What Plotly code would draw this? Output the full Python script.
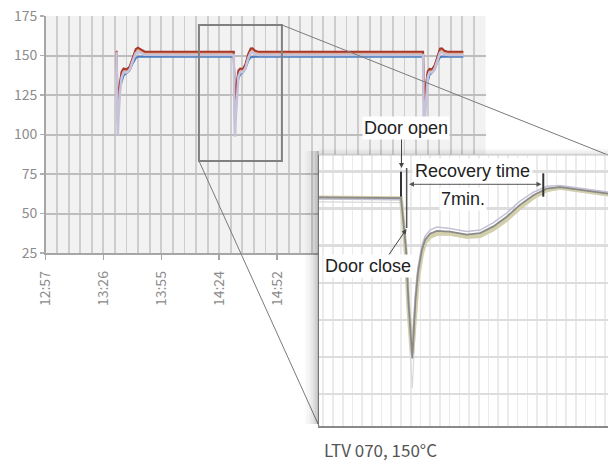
import plotly.graph_objects as go

# Figure fills the whole 608x461 window (body margin removed by a tiny post script).
W, H = 608, 461

# ---------------- main chart data (minutes since 12:57, degC) ----------------
TICK_TIMES = [0, 28.75, 57.5, 86.25, 115]
TICK_LABELS = ["12:57", "13:26", "13:55", "14:24", "14:52"]

T = [34.8,
     35.3, 35.6, 35.9, 36.3, 37.0, 37.8, 38.8, 40.3, 41.8, 43.3, 44.8, 45.9, 47.3, 49.3,
     70.0,
     93.5, 93.8, 94.1, 94.5, 95.1, 95.8, 96.7, 98.0, 99.3, 100.7, 101.9, 102.8, 104.1, 106.0,
     150.0,
     187.5, 187.8, 188.1, 188.5, 189.1, 189.8, 190.7, 192.0, 193.3, 194.7, 195.9, 196.8, 198.1, 200.0,
     207.5]

RED = [152.3,
       152.3, 128, 121, 127, 134, 139.8, 141.8, 141.2, 143.0, 148.5, 154.0, 155.0, 154.0, 152.4,
       152.3,
       152.3, 129, 122, 128, 135, 140.5, 141.8, 141.5, 144.5, 151.0, 154.5, 154.6, 153.0, 152.3,
       152.3,
       152.3, 128, 121, 127, 135, 140.0, 141.5, 141.3, 144.0, 150.5, 154.4, 154.6, 153.0, 152.3,
       152.3]
ORANGE = [151.8,
          151.8, 125, 115, 124, 133, 139.0, 141.0, 140.6, 142.5, 148.0, 153.2, 154.2, 153.2, 151.9,
          151.8,
          151.8, 126, 116, 125, 134, 139.6, 141.0, 140.8, 143.8, 150.2, 153.7, 153.8, 152.4, 151.8,
          151.8,
          151.8, 125, 115, 124, 133, 139.0, 140.8, 140.6, 143.3, 149.8, 153.6, 153.8, 152.3, 151.8,
          151.8]
GREEN = [151.2,
         151.2, 127, 118, 125, 132, 138.0, 140.5, 140.0, 142.0, 147.5, 152.6, 153.5, 152.5, 151.3,
         151.2,
         151.2, 127, 119, 126, 133, 138.8, 140.5, 140.3, 143.2, 149.6, 153.0, 153.1, 151.8, 151.2,
         151.2,
         151.2, 127, 118, 125, 132, 138.3, 140.3, 140.1, 142.8, 149.2, 152.9, 153.1, 151.7, 151.2,
         151.2]
BEIGE = [150.7,
         150.7, 122, 107, 118, 130, 137.5, 140.0, 139.6, 141.5, 147.0, 152.0, 153.0, 152.0, 150.8,
         150.7,
         150.7, 123, 108, 119, 131, 138.2, 140.0, 139.8, 142.7, 149.0, 152.4, 152.5, 151.2, 150.7,
         150.7,
         150.7, 122, 107, 118, 130, 137.6, 139.8, 139.6, 142.3, 148.6, 152.3, 152.5, 151.1, 150.7,
         150.7]
LAVENDER = [151.6,
            151.6, 112, 99.5, 112, 127, 136.0, 139.5, 139.2, 141.0, 146.5, 151.5, 152.5, 151.6, 150.4,
            150.3,
            150.3, 111, 98.6, 111, 127, 136.8, 139.5, 139.4, 142.2, 148.4, 151.9, 152.0, 150.8, 150.3,
            150.3,
            150.3, 112, 100, 112, 127, 136.2, 139.3, 139.2, 141.8, 148.0, 151.8, 152.0, 150.7, 150.3,
            150.3]
BLUE = [149.2,
        149.2, 136, 125, 127, 130, 134.5, 137.5, 138.8, 140.5, 145.0, 148.3, 149.2, 149.3, 149.2,
        149.2,
        149.2, 136, 126, 128, 131, 135.5, 138.0, 139.2, 141.8, 146.8, 148.9, 149.2, 149.2, 149.2,
        149.2,
        149.2, 136, 125, 127, 130, 135.0, 137.8, 139.0, 141.3, 146.4, 148.8, 149.2, 149.2, 149.2,
        149.2]

# ---------------- inset data (minutes from door opening, degC) ----------------
INSET_T = [-4.3, -0.05, 0.0, 0.15, 0.26, 0.38, 0.58, 0.74, 0.87, 1.07, 1.24, 1.49, 1.85,
           2.52, 3.38, 4.07, 4.75, 5.44, 6.12, 6.81, 7.5, 8.18, 9.38, 10.7]
INSET_GRAY = [151.5, 151.5, 151.4, 147.5, 144.4, 137.5, 129.8, 137.5, 141.3, 144.4, 145.8, 146.6,
              147.0, 146.9, 146.5, 146.7, 147.6, 148.9, 150.5, 151.8, 152.7, 152.9, 152.5, 152.0]
INSET_OLIVE = [151.5, 151.5, 151.4, 147.0, 143.5, 136.5, 130.5, 136.0, 140.5, 143.8, 145.4, 146.2,
               146.6, 146.6, 146.2, 146.3, 147.2, 148.5, 150.1, 151.5, 152.5, 152.8, 152.4, 151.9]
INSET_LAV = [151.3, 151.3, 151.2, 147.8, 145.0, 138.5, 131.0, 138.5, 142.0, 145.0, 146.3, 147.1,
             147.5, 147.3, 146.9, 147.1, 148.1, 149.4, 151.0, 152.2, 153.0, 153.1, 152.7, 152.2]
INSET_FAINT = [150.9, 150.9, 150.8, 146.0, 141.5, 134.0, 125.8, 134.5, 139.5, 143.5, 145.2, 146.0,
               146.4, 146.4, 146.0, 146.1, 147.0, 148.3, 149.9, 151.3, 152.3, 152.6, 152.2, 151.7]

DOOR_OPEN_T = 0.0
DOOR_CLOSE_T = 0.29
RECOVERED_T = 7.32


def px(x):
    return x / W


def py(y):
    return 1 - y / H


fig = go.Figure()

main_series = [(BLUE, "#4a7fc1", 2), (GREEN, "#b7cd92", 2), (BEIGE, "#ddd3b2", 2),
               (ORANGE, "#e6a07a", 2), (RED, "#a8372e", 2), (LAVENDER, "#c7c1da", 2.5)]
for vals, col, w in main_series:
    fig.add_trace(go.Scatter(x=T, y=vals, mode="lines", line=dict(color=col, width=w),
                             xaxis="x", yaxis="y", hoverinfo="skip"))

inset_series = [(INSET_FAINT, "#d9d9d9", 1.2), (INSET_OLIVE, "#d2cfaa", 4),
                (INSET_LAV, "#c4c0d6", 1.5), (INSET_GRAY, "#8a8a8a", 1.8)]
for vals, col, w in inset_series:
    fig.add_trace(go.Scatter(x=INSET_T, y=vals, mode="lines", line=dict(color=col, width=w),
                             xaxis="x2", yaxis="y2", hoverinfo="skip"))

tickfont = dict(family="Noto Sans CJK JP, Noto Sans, sans-serif", size=14, color="#8c8c8c")

fig.update_layout(
    template="none",
    width=W, height=H, margin=dict(l=0, r=0, t=0, b=0, pad=0, autoexpand=False),
    paper_bgcolor="white", plot_bgcolor="white", showlegend=False,
    xaxis=dict(domain=[px(45.5), px(485.5)], range=[0, 218.5], anchor="y", automargin=False,
               tickmode="array", tickvals=TICK_TIMES, ticktext=TICK_LABELS, tickangle=-90,
               ticks="outside", ticklen=5, tickcolor="#a6a6a6", tickwidth=1.5,
               showgrid=True, gridcolor="#cdcdcd", gridwidth=1.8,
               minor=dict(tickmode="linear", tick0=0, dtick=5.75, showgrid=True,
                          gridcolor="#cdcdcd", gridwidth=1.8),
               showline=True, linecolor="#a6a6a6", linewidth=1.5, zeroline=False,
               tickfont=tickfont, ticklabelstandoff=6, fixedrange=True),
    yaxis=dict(domain=[py(253), py(16)], range=[25, 175], anchor="x", automargin=False,
               tickmode="linear", tick0=25, dtick=25,
               ticks="outside", ticklen=4, tickcolor="#b0b0b0", tickwidth=1.5,
               showgrid=True, gridcolor="#bdbdbd", gridwidth=2,
               showline=True, linecolor="#a6a6a6", linewidth=1.5, zeroline=False,
               tickfont=tickfont, fixedrange=True),
    xaxis2=dict(domain=[px(319), 1], range=[-4.22, 10.65], anchor="y2", automargin=False,
                showticklabels=False, ticks="", tickmode="linear", tick0=0, dtick=0.5,
                showgrid=True, gridcolor="#ebebeb", gridwidth=1.6,
                showline=True, linecolor="#8a8a8a", linewidth=1.5, zeroline=False,
                fixedrange=True),
    yaxis2=dict(domain=[py(426), py(155)], range=[120.69, 157.22], anchor="x2", automargin=False,
                showticklabels=False, ticks="", tickmode="linear", tick0=125, dtick=5,
                showgrid=True, gridcolor="#dddddd", gridwidth=2.5,
                showline=True, linecolor="#9a9a9a", linewidth=1.5, zeroline=False,
                fixedrange=True),
)

shapes = []
# main plot background
shapes.append(dict(type="rect", xref="x domain", yref="y domain", x0=0, x1=1, y0=0, y1=1,
                   fillcolor="#f2f2f2", line=dict(width=0), layer="below"))
# zoom box on the main chart
shapes.append(dict(type="rect", xref="x", yref="y", x0=76.2, x1=117.4, y0=83.2, y1=169.3,
                   line=dict(color="#808080", width=2), layer="above"))
# connecting lines
shapes.append(dict(type="line", xref="paper", yref="paper", x0=px(282), y0=py(25),
                   x1=px(608), y1=py(155), line=dict(color="#7a7a7a", width=1), layer="above"))
shapes.append(dict(type="line", xref="paper", yref="paper", x0=px(199), y0=py(161),
                   x1=px(319), y1=py(426), line=dict(color="#7a7a7a", width=1), layer="above"))
# inset shadow (left and top)
left_alpha = [0.02, 0.04, 0.06, 0.09, 0.13, 0.18, 0.26]
for i, a in enumerate(left_alpha):
    x0 = 305 + 2 * i
    shapes.append(dict(type="rect", xref="paper", yref="paper", x0=px(x0), x1=px(x0 + 2),
                       y0=py(424), y1=py(151), fillcolor=f"rgba(0,0,0,{a})",
                       line=dict(width=0), layer="above"))
top_alpha = [0.03, 0.06, 0.10]
for i, a in enumerate(top_alpha):
    y0 = 149 + 2 * i
    shapes.append(dict(type="rect", xref="paper", yref="paper", x0=px(319), x1=1,
                       y0=py(y0 + 2), y1=py(y0), fillcolor=f"rgba(0,0,0,{a})",
                       line=dict(width=0), layer="above"))
# inset top border
shapes.append(dict(type="line", xref="paper", yref="paper", x0=px(319), x1=1,
                   y0=py(155), y1=py(155), line=dict(color="#c4c4c4", width=1), layer="above"))
# markers in inset
shapes.append(dict(type="line", xref="x2", yref="y2", x0=DOOR_OPEN_T, x1=DOOR_OPEN_T,
                   y0=151.6, y1=154.97, line=dict(color="#333333", width=2), layer="above"))
shapes.append(dict(type="line", xref="x2", yref="y2", x0=DOOR_CLOSE_T, x1=DOOR_CLOSE_T,
                   y0=147.38, y1=155.47, line=dict(color="#555555", width=1.5), layer="above"))
shapes.append(dict(type="line", xref="x2", yref="y2", x0=RECOVERED_T, x1=RECOVERED_T,
                   y0=151.6, y1=154.75, line=dict(color="#333333", width=2), layer="above"))
fig.update_layout(shapes=shapes)

afont = dict(family="Liberation Sans, Arial, sans-serif", size=18, color="#222222")
ann = []
ann.append(dict(xref="paper", yref="paper", x=px(406), y=py(128), text="Door open",
                showarrow=False, font=afont, bgcolor="white", borderpad=1,
                xanchor="center", yanchor="middle"))
ann.append(dict(xref="paper", yref="paper", x=px(368), y=py(266), text="Door close",
                showarrow=False, font=afont, bgcolor="white", borderpad=1,
                xanchor="center", yanchor="middle"))
ann.append(dict(xref="paper", yref="paper", x=px(472), y=py(171), text="Recovery time",
                showarrow=False, font=afont, bgcolor="white", borderpad=2,
                xanchor="center", yanchor="middle"))
ann.append(dict(xref="paper", yref="paper", x=px(463), y=py(198.5), text="7min.",
                showarrow=False, font=afont, bgcolor="white", borderpad=1,
                xanchor="center", yanchor="middle"))
# arrows
ann.append(dict(xref="paper", yref="paper", x=px(401.5), y=py(168), text="", showarrow=True,
                ax=0, ay=-30, arrowhead=2, arrowsize=1, arrowwidth=1, arrowcolor="#444444",
                standoff=0))
ann.append(dict(xref="paper", yref="paper", x=px(406.5), y=py(229), text="", showarrow=True,
                ax=-18.5, ay=27, arrowhead=2, arrowsize=1, arrowwidth=1, arrowcolor="#444444",
                standoff=0))
ann.append(dict(xref="paper", yref="paper", x=px(541.5), y=py(184.3), text="", showarrow=True,
                ax=-134, ay=0, arrowhead=2, startarrowhead=2, arrowside="end+start",
                arrowsize=1, arrowwidth=1, arrowcolor="#555555", standoff=0, startstandoff=0))
# caption
ann.append(dict(xref="paper", yref="paper", x=px(380), y=py(449.5), text="LTV 070, 150°C",
                showarrow=False,
                font=dict(family="Noto Sans CJK JP, Noto Sans, sans-serif", size=17,
                          color="#555555"),
                xanchor="center", yanchor="middle"))
fig.update_layout(annotations=ann)

fig.write_html("out.html",
               config={"displayModeBar": False, "staticPlot": True},
               post_script="document.body.style.margin='0';document.body.style.overflow='hidden';")
